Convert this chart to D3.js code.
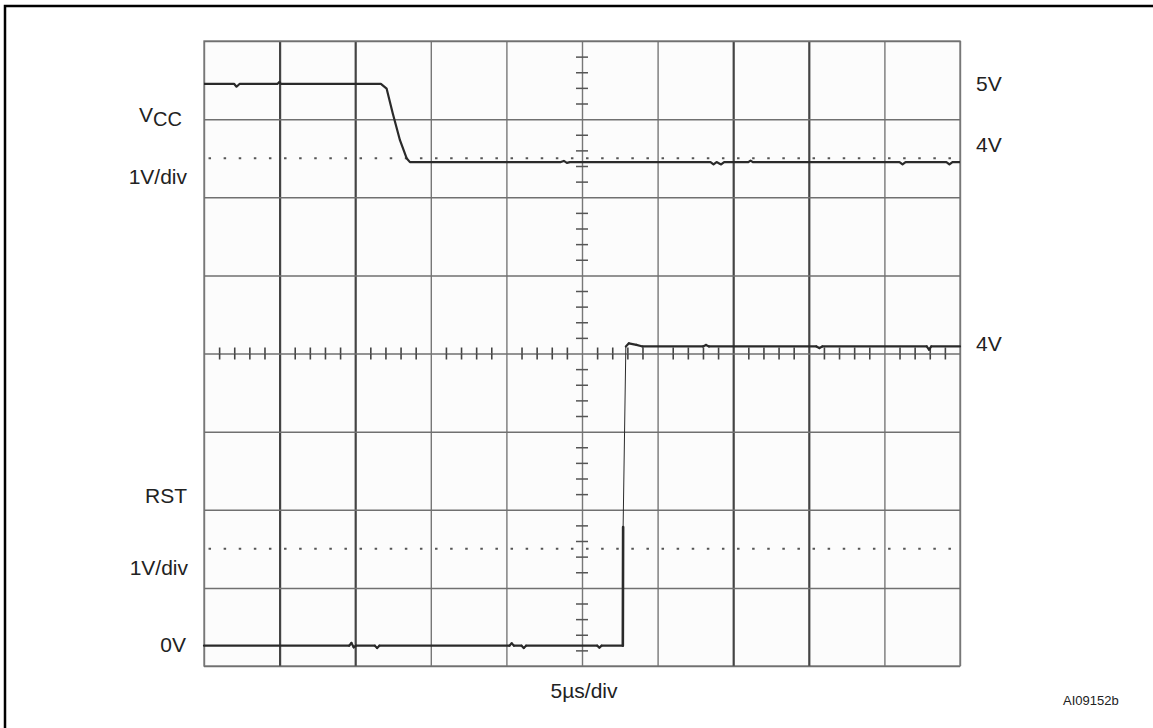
<!DOCTYPE html>
<html lang="en">
<head>
    <meta charset="UTF-8">
    <title>Power-down scope trace</title>
    <script src="https://d3js.org/d3.v7.min.js"></script>
    <style>
      body { margin: 0; background: #fff; }
      svg text { font-family: "Liberation Sans", Arial, sans-serif; fill: #222; }
    </style>
</head>
<body>
<div id="chart"></div>
<script>
    // time axis: 5us/div, 10 divisions
    var majorTimes = [0, 5, 10, 15, 20, 25, 30, 35, 40, 45, 50]
    // vertical: 8 divisions, center = 0
    var majorDivs = [-4, -3, -2, -1, 0, 1, 2, 3, 4]
    var darkCols = [5, 10, 35, 40]   // the darker vertical lines of the scan

    // VCC trace (volts), 1V/div
    var vccTime = [0, 2.0, 2.15, 2.35, 4.85, 4.98, 5.1, 11.7, 12.08, 12.49, 12.96, 13.4, 13.62,
                   23.6, 23.8, 24.0, 24.2, 33.5, 33.7, 33.9, 34.2, 34.4, 36.0, 36.15, 36.3,
                   46.0, 46.2, 46.4, 49.1, 49.3, 49.5, 50]
    var vccVolts = [5.0, 5.0, 4.965, 5.0, 5.0, 5.025, 5.0, 5.0, 4.94, 4.62, 4.28, 4.05, 4.0,
                    4.0, 4.015, 3.99, 4.0, 4.0, 3.97, 4.0, 3.97, 4.0, 4.0, 4.02, 4.0,
                    4.0, 3.97, 4.0, 4.0, 3.97, 4.0, 4.0]

    // RST trace (volts), 1V/div
    var rstTime = [0, 9.6, 9.75, 9.9, 10.05, 11.3, 11.45, 11.6, 20.2, 20.35, 20.5, 21.0, 21.15, 21.3,
                   26.0, 26.15, 26.3, 27.7, 27.72, 27.9, 28.1, 28.6, 29.0, 33.0, 33.2, 33.4,
                   40.5, 40.7, 40.9, 47.8, 47.95, 48.1, 50]
    var rstVolts = [0, 0, 0.035, -0.02, 0, 0, -0.03, 0, 0, 0.03, 0, 0, -0.03, 0,
                    0, -0.025, 0, 0, 1.52, 3.83, 3.87, 3.85, 3.83, 3.83, 3.85, 3.83,
                    3.83, 3.81, 3.83, 3.83, 3.79, 3.83, 3.83]

    // channel positions on screen (divisions from center)
    var vccOffset = -1.55
    var rstOffset = -3.74
    var refDivs = [2.5, -2.5]   // dotted reference lines

    var W = 1153, H = 728
    var gLeft = 204, gRight = 960, gTop = 41, gBottom = 666

    var x = d3.scaleLinear().domain([0, 50]).range([gLeft, gRight])
    var y = d3.scaleLinear().domain([-4, 4]).range([gBottom, gTop])

    var svg = d3.select("#chart").append("svg").attr("width", W).attr("height", H)

    // outer figure frame (runs off the page on right / bottom)
    svg.append("rect").attr("x", 5).attr("y", 6).attr("width", 1170).attr("height", 760)
      .attr("fill", "none").attr("stroke", "#000").attr("stroke-width", 2.5)

    svg.append("rect").attr("x", gLeft).attr("y", gTop).attr("width", gRight - gLeft).attr("height", gBottom - gTop)
      .attr("fill", "#fcfcfc").attr("stroke", "#8a8a8a").attr("stroke-width", 1.5)

    // grid via axes
    var xg = svg.append("g").attr("transform", "translate(0," + gBottom + ")")
      .call(d3.axisBottom(x).tickValues(majorTimes).tickSize(-(gBottom - gTop)).tickFormat(""))
    xg.select(".domain").remove()
    xg.selectAll("line")
      .attr("stroke", function(d) { return darkCols.indexOf(d) >= 0 ? "#444" : "#777" })
      .attr("stroke-width", function(d) { return darkCols.indexOf(d) >= 0 ? 2.2 : 1.4 })

    var yg = svg.append("g").attr("transform", "translate(" + gLeft + ",0)")
      .call(d3.axisLeft(y).tickValues(majorDivs).tickSize(-(gRight - gLeft)).tickFormat(""))
    yg.select(".domain").remove()
    yg.selectAll("line").attr("stroke", "#707070").attr("stroke-width", 1.5)

    // minor ticks on the center cross
    var minorT = d3.range(1, 50, 1).filter(function(t) { return t % 5 != 0 })
    var minorD = d3.range(-19, 20, 1).filter(function(k) { return k % 5 != 0 }).map(function(k) { return k / 5 })

    ;[d3.axisLeft, d3.axisRight].forEach(function(ax) {
      var g = svg.append("g").attr("transform", "translate(" + x(25) + ",0)")
        .call(ax(y).tickValues(minorD).tickSize(6).tickFormat(""))
      g.select(".domain").remove()
      g.selectAll("line").attr("stroke", "#555").attr("stroke-width", 1.5)
    })
    ;[d3.axisTop, d3.axisBottom].forEach(function(ax) {
      var g = svg.append("g").attr("transform", "translate(0," + y(0) + ")")
        .call(ax(x).tickValues(minorT).tickSize(6).tickFormat(""))
      g.select(".domain").remove()
      g.selectAll("line").attr("stroke", "#444").attr("stroke-width", 1.6)
    })

    // dotted reference levels
    svg.selectAll(".ref").data(refDivs).enter().append("line")
      .attr("class", "ref")
      .attr("x1", x(0.3)).attr("x2", x(49.5))
      .attr("y1", function(d) { return y(d) }).attr("y2", function(d) { return y(d) })
      .attr("stroke", "#555").attr("stroke-width", 2)
      .attr("stroke-dasharray", "2.5,12.6")

    // traces
    var vccPts = vccTime.map(function(t, i) { return [t, vccVolts[i] + vccOffset] })
    var rstPts = rstTime.map(function(t, i) { return [t, rstVolts[i] + rstOffset] })

    var line = d3.line().x(function(d) { return x(d[0]) }).y(function(d) { return y(d[1]) })

    svg.append("path").datum(vccPts).attr("d", line)
      .attr("fill", "none").attr("stroke", "#2a2a2a").attr("stroke-width", 2.2).attr("stroke-linejoin", "round")

    // RST: fast edge is faint on the scope -> thin stroke for steep upper part
    svg.selectAll(".rst").data(d3.pairs(rstPts)).enter().append("path")
      .attr("class", "rst")
      .attr("d", function(p) { return line(p) })
      .attr("fill", "none").attr("stroke", "#2a2a2a")
      .attr("stroke-linecap", "round")
      .attr("stroke-width", function(p) {
        var steep = Math.abs(p[1][1] - p[0][1]) > 1
        return steep && p[0][1] > rstOffset + 1 ? 1 : (steep ? 2.6 : 2.2)
      })

    // labels
    function label(txt, xx, yy, anchor, size) {
      return svg.append("text").attr("x", xx).attr("y", yy).attr("text-anchor", anchor || "start")
        .style("font-size", (size || 21) + "px").text(txt)
    }
    var vcc = svg.append("text").attr("x", 182).attr("y", 122).attr("text-anchor", "end").style("font-size", "21px")
    vcc.append("tspan").text("V")
    vcc.append("tspan").attr("dy", 4).style("font-size", "20px").text("CC")
    label("1V/div", 187, 184, "end")
    label("RST", 187, 503, "end")
    label("1V/div", 188, 575, "end")
    label("0V", 186, 652, "end")
    label("5V", 976, 91)
    label("4V", 976, 152)
    label("4V", 976, 351)
    label("5\u00b5s/div", 584, 698, "middle")
    label("AI09152b", 1063, 705, "start", 13)
</script>
</body>
</html>
